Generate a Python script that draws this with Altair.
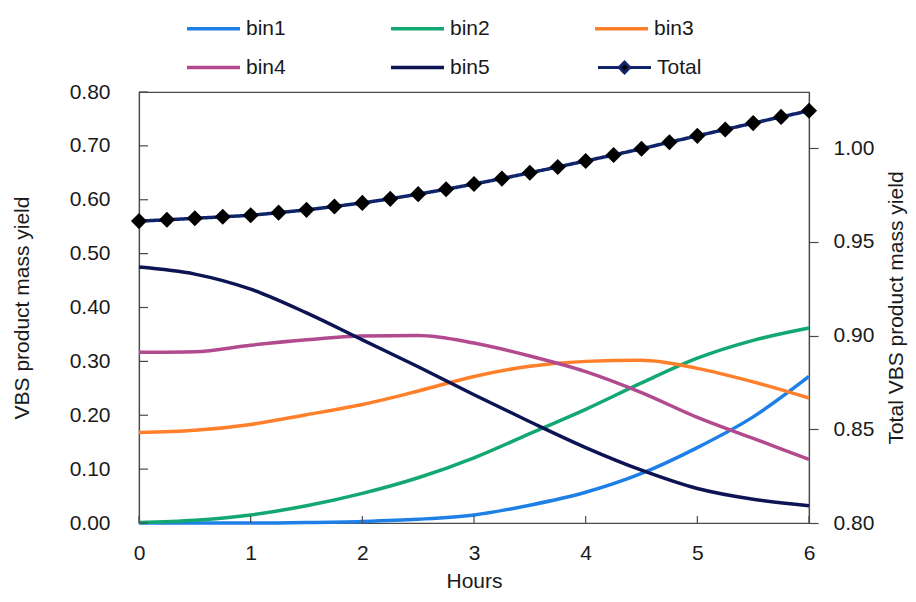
import altair as alt
import pandas as pd

# ---- data ----
hours_bins = [0, 0.5, 1, 1.5, 2, 2.5, 3, 3.5, 4, 4.5, 5, 5.5, 6]
bin1 = [0.000, 0.000, 0.000, 0.001, 0.003, 0.007, 0.015, 0.033, 0.057, 0.092, 0.140, 0.197, 0.272]
bin2 = [0.001, 0.005, 0.015, 0.032, 0.055, 0.084, 0.121, 0.166, 0.211, 0.260, 0.306, 0.339, 0.362]
bin3 = [0.168, 0.172, 0.183, 0.201, 0.220, 0.245, 0.272, 0.291, 0.300, 0.302, 0.287, 0.262, 0.232]
bin4 = [0.317, 0.318, 0.330, 0.340, 0.347, 0.348, 0.334, 0.310, 0.281, 0.242, 0.196, 0.157, 0.118]
bin5 = [0.475, 0.462, 0.434, 0.390, 0.340, 0.290, 0.238, 0.188, 0.140, 0.098, 0.064, 0.044, 0.032]

hours_total = [0, 0.25, 0.5, 0.75, 1, 1.25, 1.5, 1.75, 2, 2.25, 2.5, 2.75, 3,
               3.25, 3.5, 3.75, 4, 4.25, 4.5, 4.75, 5, 5.25, 5.5, 5.75, 6]
total = [0.9611, 0.9618, 0.9626, 0.9634, 0.9642, 0.9656, 0.9671, 0.9689, 0.9708,
         0.9730, 0.9755, 0.9781, 0.9809, 0.9838, 0.9869, 0.9900, 0.9932, 0.9964,
         0.9997, 1.0032, 1.0066, 1.0100, 1.0134, 1.0167, 1.0200]

series_names = ["bin1", "bin2", "bin3", "bin4", "bin5"]
series_colors = ["#1E80E6", "#13A872", "#FF7F2A", "#B24A8F", "#0C1454"]
total_name = "Total"
total_line_color = "#10246B"

left_ticks = [0.0, 0.1, 0.2, 0.3, 0.4, 0.5, 0.6, 0.7, 0.8]
right_ticks = [0.80, 0.85, 0.90, 0.95, 1.00]
x_ticks = [0, 1, 2, 3, 4, 5, 6]

# ---- tables ----
series_values = [bin1, bin2, bin3, bin4, bin5]
rows = []
for name, vals in zip(series_names, series_values):
    for h, v in zip(hours_bins, vals):
        rows.append({"hours": h, "value": v, "series": name})
bins_df = pd.DataFrame(rows)
total_df = pd.DataFrame({"hours": hours_total, "total": total, "name": total_name})
left_tick_df = pd.DataFrame({"value": left_ticks})
x_tick_df = pd.DataFrame({"hours": x_ticks})

W, H = 670, 431
AX = "#4a4a4a"
FONT = "Liberation Sans"

x_enc = alt.X(
    "hours:Q",
    scale=alt.Scale(domain=[0, 6], nice=False, zero=False),
    axis=alt.Axis(values=x_ticks, format="d", title="Hours", ticks=False, tickSize=0,
                  labelPadding=19, titlePadding=7, grid=False, labelFlush=False),
)
y_left = alt.Y(
    "value:Q",
    scale=alt.Scale(domain=[0, 0.8], nice=False, zero=False),
    axis=alt.Axis(values=left_ticks, format=".2f", title="VBS product mass yield",
                  ticks=False, tickSize=0, labelPadding=29, titlePadding=37, grid=False),
)

lines = alt.Chart(bins_df).mark_line(strokeWidth=3.5, interpolate="monotone").encode(
    x=x_enc,
    y=y_left,
    color=alt.Color(
        "series:N",
        scale=alt.Scale(domain=series_names, range=series_colors),
        legend=alt.Legend(
            title=None, orient="none", legendX=62, legendY=-76, columns=3,
            direction="horizontal",
            symbolType="M-2.5,0L2.5,0", symbolSize=450, symbolStrokeWidth=3.5,
            labelOffset=20, columnPadding=97, rowPadding=16,
        ),
    ),
)

left_ticks_layer = alt.Chart(left_tick_df).mark_rule(color=AX, strokeWidth=1.2).encode(
    y=y_left, x=alt.value(0), x2=alt.value(9)
)
x_ticks_layer = alt.Chart(x_tick_df).mark_rule(color=AX, strokeWidth=1.2).encode(
    x=x_enc, y=alt.value(H), y2=alt.value(H - 7)
)

left = alt.layer(lines, left_ticks_layer, x_ticks_layer)

y_right = alt.Y(
    "total:Q",
    scale=alt.Scale(domain=[0.80, 1.03], nice=False, zero=False),
    axis=alt.Axis(orient="right", values=right_ticks, format=".2f",
                  title="Total VBS product mass yield", tickSize=9, labelPadding=15,
                  titlePadding=33, titleAngle=270, grid=False),
)

total_line = alt.Chart(total_df).mark_line(color=total_line_color, strokeWidth=3.5).encode(
    x=x_enc,
    y=y_right,
    strokeDash=alt.StrokeDash(
        "name:N",
        scale=alt.Scale(domain=[total_name], range=[[1, 0]]),
        legend=alt.Legend(
            title=None, orient="none", legendX=473, legendY=-37,
            symbolType="M-2.5,0L-0.45,0M0.45,0L2.5,0M0,-0.5L0.5,0L0,0.5L-0.5,0Z",
            symbolSize=450, symbolStrokeWidth=3, symbolFillColor="black",
            symbolStrokeColor=total_line_color, labelOffset=20,
        ),
    ),
)
total_points = alt.Chart(total_df).mark_point(
    shape="diamond", filled=True, color="black", size=260, opacity=1
).encode(x=x_enc, y=y_right)

right = alt.layer(total_line, total_points)

chart = (
    alt.layer(left, right)
    .resolve_scale(y="independent")
    .properties(
        width=W, height=H, autosize="none",
        padding={"left": 131, "top": 84, "right": 99, "bottom": 71},
        background="white",
    )
    .configure_view(stroke=AX, strokeWidth=1.2)
    .configure_axis(
        labelFont=FONT, labelFontSize=21, labelColor="#1a1a1a",
        titleFont=FONT, titleFontSize=21, titleFontWeight="normal", titleColor="#1a1a1a",
        domainColor=AX, domainWidth=1.2, tickColor=AX, tickWidth=1.2,
    )
    .configure_legend(labelFont=FONT, labelFontSize=21, labelColor="#1a1a1a")
)

chart.save("out.html", embed_options={"renderer": "svg", "actions": False})
